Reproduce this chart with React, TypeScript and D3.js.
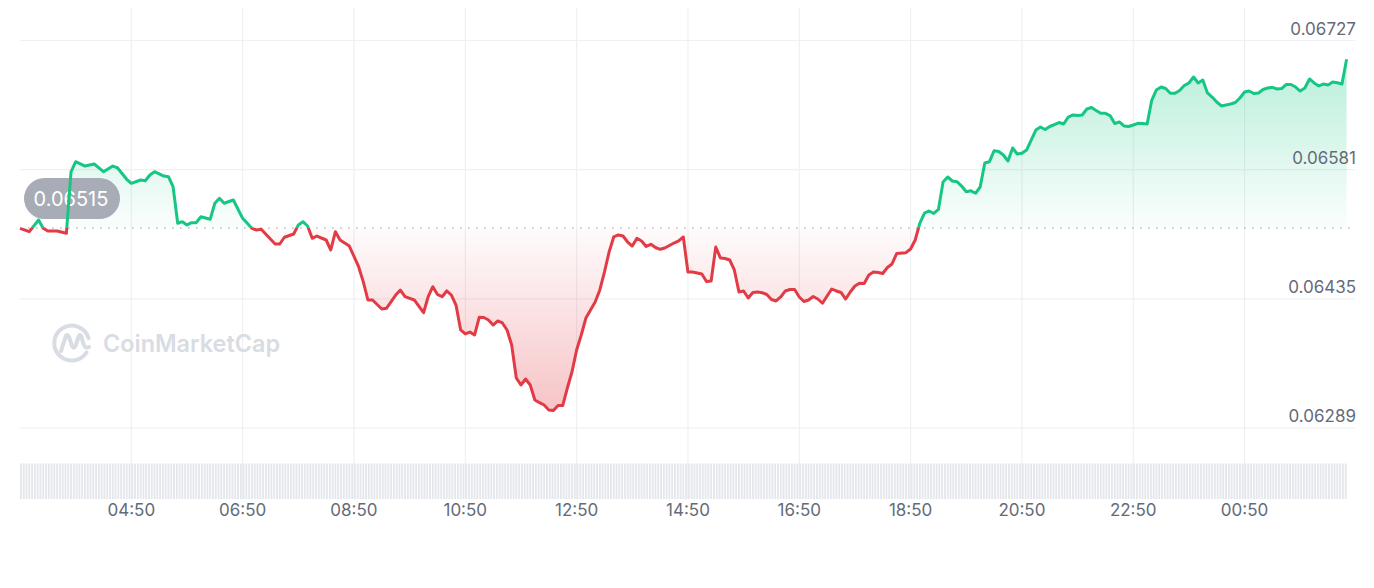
import React from "react";
import * as d3 from "d3";

// ---------- data ----------
const START_CLOCK = "02:50";
const END_MINUTES = 1430;

const PRICE_MINUTES = [
  0, 10, 20, 25, 30, 40, 50, 55, 60, 70, 80, 90, 100, 105, 115, 120, 130, 135, 140, 145,
  155, 160, 165, 170, 175, 180, 185, 190, 195, 205, 210, 215, 220, 230, 240, 250, 255, 260, 275, 280,
  285, 295, 300, 305, 310, 315, 320, 330, 335, 340, 345, 355, 365, 370, 375, 380, 390, 395, 405, 410,
  415, 425, 435, 440, 445, 450, 455, 460, 465, 470, 475, 480, 485, 490, 495, 500, 505, 510, 515, 520,
  525, 530, 535, 540, 545, 550, 555, 560, 565, 570, 575, 580, 585, 590, 595, 600, 605, 610, 615, 620,
  625, 630, 635, 640, 645, 650, 655, 660, 665, 670, 675, 680, 685, 690, 695, 700, 705, 710, 715, 720,
  725, 730, 735, 740, 745, 750, 755, 760, 765, 770, 775, 780, 785, 790, 795, 800, 805, 810, 815, 820,
  825, 830, 835, 840, 845, 850, 855, 860, 865, 870, 875, 880, 885, 890, 895, 900, 905, 910, 915, 920,
  925, 930, 935, 940, 945, 955, 960, 965, 970, 975, 980, 985, 990, 995, 1000, 1005, 1010, 1015, 1020, 1025,
  1030, 1035, 1040, 1045, 1050, 1055, 1060, 1065, 1070, 1075, 1080, 1085, 1090, 1095, 1100, 1105, 1110, 1115, 1120, 1125,
  1130, 1135, 1140, 1145, 1150, 1155, 1160, 1165, 1170, 1175, 1180, 1185, 1190, 1195, 1200, 1205, 1210, 1215, 1220, 1225,
  1230, 1235, 1240, 1245, 1250, 1255, 1260, 1265, 1270, 1275, 1280, 1285, 1290, 1295, 1300, 1305, 1310, 1315, 1320, 1325,
  1330, 1335, 1340, 1345, 1350, 1355, 1360, 1365, 1370, 1375, 1380, 1385, 1390, 1395, 1400, 1405, 1410, 1415, 1420, 1425,
  1430,
];

const PRICES = [
  0.065147, 0.065109, 0.065241, 0.065147, 0.065117, 0.065117, 0.065091, 0.065784, 0.0659, 0.065851,
  0.065874, 0.065787, 0.065851, 0.065832, 0.065701, 0.065656, 0.065693, 0.065685, 0.06575, 0.065787,
  0.065738, 0.065731, 0.065618, 0.065204, 0.065222, 0.065185, 0.065211, 0.065211, 0.065278, 0.065249,
  0.06543, 0.065486, 0.06543, 0.065467, 0.06526, 0.065147, 0.065128, 0.065136, 0.06497, 0.06497,
  0.065046, 0.065083, 0.065185, 0.065222, 0.065173, 0.065034, 0.06506, 0.065015, 0.064902, 0.065109,
  0.065015, 0.064947, 0.064713, 0.064544, 0.064337, 0.064337, 0.064235, 0.064243, 0.064393, 0.06445,
  0.064374, 0.064337, 0.064193, 0.064374, 0.064487, 0.064399, 0.064374, 0.064439, 0.064393, 0.06428,
  0.063998, 0.063953, 0.063975, 0.063941, 0.064141, 0.064139, 0.064111, 0.064054, 0.0641, 0.064077,
  0.063998, 0.063828, 0.063455, 0.063376, 0.063444, 0.063376, 0.063207, 0.063176, 0.06315, 0.063094,
  0.063088, 0.063144, 0.063144, 0.063342, 0.063523, 0.063772, 0.063941, 0.064133, 0.064224, 0.064314,
  0.06445, 0.064653, 0.064879, 0.065049, 0.065072, 0.06506, 0.064992, 0.064947, 0.065034, 0.065004,
  0.064942, 0.064966, 0.06493, 0.06491, 0.064925, 0.064953, 0.064981, 0.065004, 0.065049, 0.064653,
  0.064653, 0.064642, 0.064631, 0.064546, 0.064552, 0.064936, 0.064812, 0.064806, 0.064789, 0.064676,
  0.064427, 0.064439, 0.064359, 0.064422, 0.064427, 0.064419, 0.064399, 0.064343, 0.064326, 0.064371,
  0.064439, 0.064456, 0.064456, 0.064371, 0.06432, 0.064337, 0.064376, 0.064348, 0.0643, 0.064382,
  0.064461, 0.064439, 0.064422, 0.064348, 0.064427, 0.064495, 0.064526, 0.064523, 0.06462, 0.064653,
  0.064648, 0.064636, 0.064704, 0.064744, 0.064862, 0.064872, 0.064913, 0.065015, 0.065207, 0.06532,
  0.065343, 0.065315, 0.06536, 0.065671, 0.065727, 0.065682, 0.065674, 0.065625, 0.065561, 0.065571,
  0.065543, 0.065614, 0.065885, 0.0659, 0.066024, 0.066015, 0.065976, 0.065908, 0.066055, 0.065987,
  0.065995, 0.066032, 0.066145, 0.066258, 0.066292, 0.066264, 0.066298, 0.06632, 0.066343, 0.066326,
  0.066405, 0.066428, 0.066422, 0.066428, 0.066496, 0.066513, 0.066479, 0.066447, 0.066447, 0.066422,
  0.066332, 0.066349, 0.066304, 0.066298, 0.066315, 0.066334, 0.066332, 0.066326, 0.066597, 0.066711,
  0.066744, 0.066727, 0.066673, 0.066673, 0.066705, 0.066761, 0.06679, 0.066857, 0.06679, 0.066824,
  0.066677, 0.066631, 0.066575, 0.06653, 0.066541, 0.066552, 0.066569, 0.06662, 0.066688, 0.066699,
  0.066671, 0.066677, 0.066716, 0.066733, 0.066741, 0.066722, 0.066727, 0.066773, 0.066773, 0.066744,
  0.066699, 0.066733, 0.066835, 0.06679, 0.066756, 0.066778, 0.066767, 0.066801, 0.066793, 0.066778,
  0.067058,
];

const BASELINE_PRICE = 0.06515;
const BASELINE_LABEL = "0.06515";
const Y_TICKS = [0.06289, 0.06435, 0.06581, 0.06727];
const Y_TICK_LABELS = ["0.06289", "0.06435", "0.06581", "0.06727"];
const X_TICK_LABELS = [
  "04:50", "06:50", "08:50", "10:50", "12:50", "14:50",
  "16:50", "18:50", "20:50", "22:50", "00:50",
];
// volume bars all read at the same (full) height
const VOLUME_STEP_MINUTES = 3;
const VOLUME_LEVEL = 1;

// ---------- layout ----------
const W = 1374;
const H = 588;
const GREEN = "#16c784";
const RED = "#e23b45";
const FONT = "Inter, Roboto, 'Noto Sans', sans-serif";

const clockToMinutes = (s: string) => {
  const [h, m] = s.split(":").map(Number);
  return h * 60 + m;
};

export default function App() {
  const startMod = clockToMinutes(START_CLOCK);
  const start = new Date(2024, 0, 1, Math.floor(startMod / 60), startMod % 60);
  const toDate = (m: number) => new Date(start.getTime() + m * 60000);

  const x = d3.scaleTime().domain([toDate(0), toDate(END_MINUTES)]).range([20, 1346.6]);
  const y = d3.scaleLinear().domain([Y_TICKS[0], Y_TICKS[Y_TICKS.length - 1]]).range([428, 40.5]);
  const yVol = d3.scaleLinear().domain([0, VOLUME_LEVEL]).range([499, 463.5]);

  const data = PRICE_MINUTES.map((m, i) => ({ t: toDate(m), v: PRICES[i] }));
  const baseY = y(BASELINE_PRICE);

  const line = d3.line<{ t: Date; v: number }>().x((d) => x(d.t)).y((d) => y(d.v));
  const area = d3
    .area<{ t: Date; v: number }>()
    .x((d) => x(d.t))
    .y0(baseY)
    .y1((d) => y(d.v));

  const linePath = line(data) || "";
  const areaPath = area(data) || "";

  const xTicks = X_TICK_LABELS.map((lab) => {
    const off = (clockToMinutes(lab) - startMod + 1440) % 1440;
    return { lab, px: x(toDate(off)) };
  });

  const volSlots = d3.range(0, END_MINUTES, VOLUME_STEP_MINUTES);
  const slotW = x(toDate(VOLUME_STEP_MINUTES)) - x(toDate(0));

  const topY = y(d3.max(PRICES) as number);
  const botY = y(d3.min(PRICES) as number);

  return (
    <svg
      width={W}
      height={H}
      viewBox={`0 0 ${W} ${H}`}
      style={{ position: "absolute", left: 0, top: 0, background: "#fff" }}
      fontFamily={FONT}
    >
      <defs>
        <linearGradient id="gGreen" gradientUnits="userSpaceOnUse" x1="0" x2="0" y1={topY} y2={baseY}>
          <stop offset="0" stopColor={GREEN} stopOpacity={0.3} />
          <stop offset="1" stopColor={GREEN} stopOpacity={0.02} />
        </linearGradient>
        <linearGradient id="gRed" gradientUnits="userSpaceOnUse" x1="0" x2="0" y1={baseY} y2={botY}>
          <stop offset="0" stopColor={RED} stopOpacity={0.02} />
          <stop offset="1" stopColor={RED} stopOpacity={0.3} />
        </linearGradient>
        <clipPath id="above">
          <rect x={0} y={0} width={W} height={baseY} />
        </clipPath>
        <clipPath id="below">
          <rect x={0} y={baseY} width={W} height={H - baseY} />
        </clipPath>
      </defs>

      <rect x={0} y={0} width={W} height={H} fill="#fff" />

      {/* horizontal grid */}
      {Y_TICKS.map((v) => (
        <line key={v} x1={20} x2={1355} y1={y(v)} y2={y(v)} stroke="#eef0f3" strokeWidth={1.2} />
      ))}

      {/* vertical grid */}
      {xTicks.map((t) => (
        <line key={t.lab} x1={t.px} x2={t.px} y1={8} y2={499} stroke="#eef0f3" strokeWidth={1.2} />
      ))}

      {/* volume bars */}
      <g fill="#e4e7ec">
        {volSlots.map((m) => (
          <rect
            key={m}
            x={x(toDate(m))}
            y={yVol(VOLUME_LEVEL)}
            width={slotW * 0.68}
            height={yVol(0) - yVol(VOLUME_LEVEL)}
          />
        ))}
      </g>

      {/* watermark */}
      <g fill="none" stroke="#d8dce3" strokeWidth={4} strokeLinecap="round" strokeLinejoin="round">
        <path d="M 86.5 352.5 A 17.5 17.5 0 1 1 88.5 338" />
        <path d="M 61 351 L 65.5 337 Q 67 333 69 337 L 72 346 Q 73.5 349.5 75.5 346 L 78.5 337 Q 80 333 81.5 337 L 83.5 344 Q 85 349 89 347" />
      </g>
      <text x={103} y={352} fontSize={24} fontWeight={600} fill="#d8dce3" textLength={177} lengthAdjust="spacingAndGlyphs">
        CoinMarketCap
      </text>

      {/* areas */}
      <path d={areaPath} fill="url(#gGreen)" clipPath="url(#above)" />
      <path d={areaPath} fill="url(#gRed)" clipPath="url(#below)" />

      {/* baseline */}
      <line x1={20} x2={1352} y1={baseY} y2={baseY} stroke="#b9bec7" strokeWidth={1.6} strokeDasharray="1.6 6.4" />

      {/* baseline pill */}
      <rect x={24} y={178} width={96} height={41} rx={20.5} fill="#a7acb6" />
      <text x={71} y={205.5} textAnchor="middle" fontSize={20} fill="#ffffff">
        {BASELINE_LABEL}
      </text>

      {/* price line */}
      <path d={linePath} fill="none" stroke={GREEN} strokeWidth={3} strokeLinejoin="round" clipPath="url(#above)" />
      <path d={linePath} fill="none" stroke={RED} strokeWidth={3} strokeLinejoin="round" clipPath="url(#below)" />

      {/* y labels */}
      {Y_TICKS.map((v, i) => (
        <text key={v} x={1356} y={y(v) - 6} textAnchor="end" fontSize={17} fill="#646b78">
          {Y_TICK_LABELS[i]}
        </text>
      ))}

      {/* x labels */}
      {xTicks.map((t) => (
        <text key={t.lab} x={t.px} y={516} textAnchor="middle" fontSize={17} fill="#646b78">
          {t.lab}
        </text>
      ))}
    </svg>
  );
}
